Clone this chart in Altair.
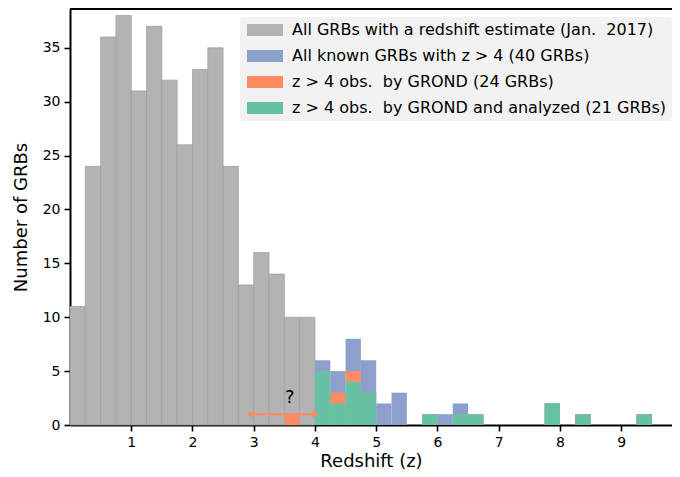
import altair as alt
import pandas as pd

BIN_WIDTH = 0.25

labels = [
    "All GRBs with a redshift estimate (Jan.\u00a0 2017)",
    "All known GRBs with z > 4 (40 GRBs)",
    "z > 4 obs.\u00a0 by GROND (24 GRBs)",
    "z > 4 obs.\u00a0 by GROND and analyzed (21 GRBs)",
]
colors = ["#b3b3b3", "#8da0cb", "#fc8d62", "#66c2a5"]

gray_start = [0.0, 0.25, 0.5, 0.75, 1.0, 1.25, 1.5, 1.75, 2.0, 2.25, 2.5, 2.75, 3.0, 3.25, 3.5, 3.75]
gray_count = [11, 24, 36, 38, 31, 37, 32, 26, 33, 35, 24, 13, 16, 14, 10, 10]

blue_start = [4.0, 4.25, 4.5, 4.75, 5.0, 5.25, 5.75, 6.0, 6.25, 6.5, 7.75, 8.25, 9.25]
blue_count = [6, 5, 8, 6, 2, 3, 1, 1, 2, 1, 2, 1, 1]

orange_start = [3.5, 4.0, 4.25, 4.5, 4.75, 5.75, 6.25, 6.5, 7.75, 8.25, 9.25]
orange_count = [1, 5, 3, 5, 3, 1, 1, 1, 2, 1, 1]

green_start = [4.0, 4.25, 4.5, 4.75, 5.75, 6.25, 6.5, 7.75, 8.25, 9.25]
green_count = [5, 2, 4, 3, 1, 1, 1, 2, 1, 1]

arrow_z = [2.94, 4.01]
arrow_y = 1.0
question_z = 3.59
question_y = 2.55

x_ticks = [1, 2, 3, 4, 5, 6, 7, 8, 9]
y_ticks = [0, 5, 10, 15, 20, 25, 30, 35]
x_domain = [0, 9.83]
y_domain = [0, 38.6]

rows = []
for lab, starts, counts in zip(labels,
                               [gray_start, blue_start, orange_start, green_start],
                               [gray_count, blue_count, orange_count, green_count]):
    for s, c in zip(starts, counts):
        rows.append({"series": lab, "z0": s, "z1": s + BIN_WIDTH, "n": c, "n0": 0})
df = pd.DataFrame(rows)

W, H = 602, 416

xscale = alt.Scale(domain=x_domain, nice=False, zero=False)
yscale = alt.Scale(domain=y_domain, nice=False)
color_scale = alt.Scale(domain=labels, range=colors)

base = alt.Chart(df)

def bar_layer(i, stroke=None):
    kw = {}
    if stroke:
        kw = dict(stroke=stroke, strokeWidth=0.7)
    return base.transform_filter(alt.datum.series == labels[i]).mark_bar(
        opacity=1, **kw
    ).encode(
        x=alt.X("z0:Q", scale=xscale,
                axis=alt.Axis(values=x_ticks, format="d", title="Redshift (z)", grid=False)),
        x2="z1:Q",
        y=alt.Y("n:Q", scale=yscale, stack=None,
                axis=alt.Axis(values=y_ticks, format="d", title="Number of GRBs", grid=False)),
        y2="n0:Q",
        color=alt.Color("series:N", scale=color_scale, sort=labels,
                        legend=alt.Legend(title=None)),
    )

layers = [bar_layer(0, stroke="#9c9c9c"), bar_layer(1), bar_layer(2), bar_layer(3)]

arrow_df = pd.DataFrame({"za": [arrow_z[0]], "zb": [arrow_z[1]], "y": [arrow_y]})
arrow_line = alt.Chart(arrow_df).mark_rule(color="#fc8d62", strokeWidth=2, opacity=1).encode(
    x=alt.X("za:Q", scale=xscale), x2="zb:Q", y=alt.Y("y:Q", scale=yscale)
)
head_l = alt.Chart(arrow_df).mark_point(
    shape="triangle-left", filled=True, color="#fc8d62", size=60, opacity=1
).encode(x=alt.X("za:Q", scale=xscale), y=alt.Y("y:Q", scale=yscale))
head_r = alt.Chart(arrow_df).mark_point(
    shape="triangle-right", filled=True, color="#fc8d62", size=60, opacity=1
).encode(x=alt.X("zb:Q", scale=xscale), y=alt.Y("y:Q", scale=yscale))

q_df = pd.DataFrame({"z": [question_z], "y": [question_y], "t": ["?"]})
qtext = alt.Chart(q_df).mark_text(fontSize=18, font="DejaVu Sans", color="black").encode(
    x=alt.X("z:Q", scale=xscale), y=alt.Y("y:Q", scale=yscale), text="t:N"
)
top_spine = alt.Chart(q_df).mark_rule(color="black", strokeWidth=2).encode(
    x=alt.value(0), x2=alt.value(W), y=alt.value(0)
)

chart = alt.layer(*layers, arrow_line, head_l, head_r, qtext, top_spine).properties(
    width=W, height=H,
    autosize=alt.AutoSizeParams(type="none"),
    padding={"left": 62, "top": 1, "right": 0, "bottom": 44},
).configure_view(stroke=None).configure_axis(
    domainColor="black", domainWidth=2, tickColor="black", tickWidth=1.6, tickSize=6,
    labelFont="DejaVu Sans", labelFontSize=14, labelColor="black", labelPadding=4,
    titleFont="DejaVu Sans", titleFontSize=18, titleFontWeight="normal", titleColor="black",
).configure_axisX(titlePadding=3, labelFlush=False).configure_axisY(titlePadding=12, labelFlush=False).configure_legend(
    orient="none", legendX=170, legendY=8,
    fillColor="#f2f2f2", padding=5, cornerRadius=3,
    labelFont="DejaVu Sans", labelFontSize=16, labelColor="black", labelLimit=0,
    symbolType="M-1,-1H5V1H-1Z", symbolSize=144, symbolStrokeWidth=0, symbolOpacity=1,
    labelOffset=31, rowPadding=10,
)

chart.save("out.html", embed_options={"renderer": "svg", "actions": False})
